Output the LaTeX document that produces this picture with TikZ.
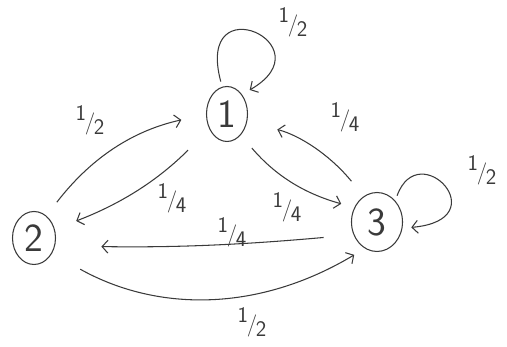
\documentclass[tikz,border=0pt]{standalone}
\usetikzlibrary{arrows.meta,shapes.geometric}
\definecolor{mkink}{HTML}{3A3A3A}
\newcommand{\hfr}[2]{\raisebox{0.42em}{#1}\kern-0.06em/\kern-0.06em\raisebox{-0.22em}{#2}}

\begin{document}
\begin{tikzpicture}[
  x=0.03cm, y=0.03cm,
  every node/.style={inner sep=0pt, outer sep=0pt, text=mkink},
  st/.style={ellipse, draw=mkink, line width=0.9pt, font=\sffamily\fontsize{34}{36}\selectfont},
  tr/.style={draw=mkink, line width=0.9pt, -{Straight Barb[length=5pt,width=11pt]}},
  pr/.style={font=\sffamily\fontsize{19}{21}\selectfont},
]
\useasboundingbox (0,0) rectangle (507,347);

% states
\node[st, minimum width=1.23cm, minimum height=1.65cm] (n1) at (227,233) {1};
\node[st, minimum width=1.29cm, minimum height=1.59cm] (n2) at (34,109)  {2};
\node[st, minimum width=1.53cm, minimum height=1.77cm] (n3) at (377,125) {3};

% transitions
\draw[tr, shorten <=15pt, shorten >=22pt] (n2.61)  to[bend left=20]  (n1.181);
\draw[tr, shorten <=26pt, shorten >=20pt] (n1.220) to[bend left=12]  (n2.23);
\draw[tr, shorten <=15pt, shorten >=12pt] (n1.-57) to[bend right=17] (n3.147);
\draw[tr, shorten <=17pt, shorten >=27pt] (n3.117) to[bend right=18] (n1.-21);
\draw[tr, shorten <=26pt, shorten >=40pt] (n3.209) to[bend left=3]   (n2.-21);
\draw[tr, shorten <=28pt, shorten >=11pt] (n2.-41) to[bend right=30] (n3.246);
% self loops
\draw[tr, shorten <=5pt, shorten >=8pt] (n1.100) .. controls +(105:3.2cm) and +(30:3cm) .. (n1.53);
\draw[tr, shorten <=5pt, shorten >=8pt] (n3.49) .. controls +(70:2.1cm) and +(5:2.9cm) .. (n3.-14);

% probabilities
\node[pr] (p11) at (293,325) {\hfr{1}{2}};
\node[pr] (p21) at (90,227)  {\hfr{1}{2}};
\node[pr] (p12) at (172,149) {\hfr{1}{4}};
\node[pr] (p13) at (287,140) {\hfr{1}{4}};
\node[pr] (p31) at (345,230) {\hfr{1}{4}};
\node[pr] (p33) at (482,177) {\hfr{1}{2}};
\node[pr] (p32) at (232,115) {\hfr{1}{4}};
\node[pr] (p23) at (252,25)  {\hfr{1}{2}};

\end{tikzpicture}
\end{document}
